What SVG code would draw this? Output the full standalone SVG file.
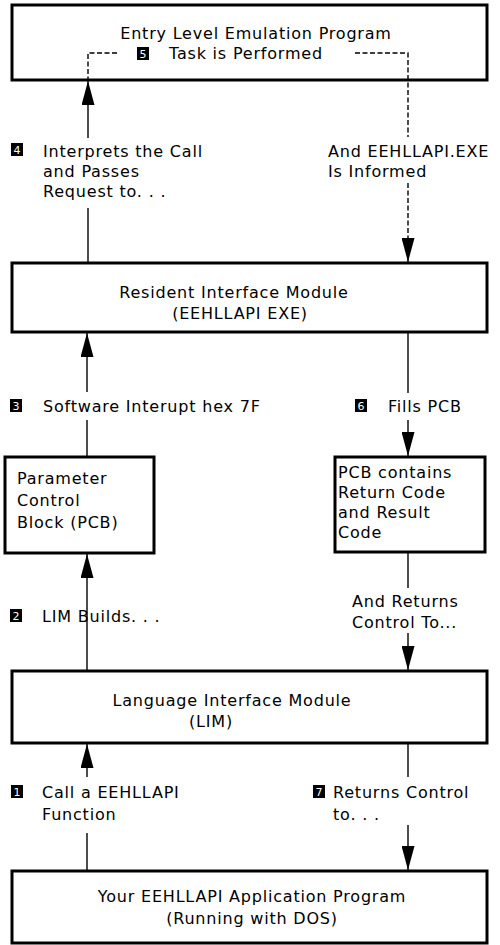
<svg xmlns="http://www.w3.org/2000/svg" width="500" height="945" viewBox="0 0 500 945">
<style>
  .box { fill: #fff; stroke: #000; stroke-width: 3; }
  .t { font-family: "DejaVu Sans", "Liberation Sans", sans-serif; font-size: 16px; letter-spacing: 0.8px; fill: #000; }
  .c { text-anchor: middle; }
  .ln { fill: none; stroke: #000; stroke-width: 1.4; }
  .dash { stroke-dasharray: 5 2.5; }
  .badge { fill: #000; }
  .bn { font-family: "DejaVu Sans", "Liberation Sans", sans-serif; font-size: 11px; fill: #fff; text-anchor: middle; }
</style>
<defs>
  <marker id="arrow" viewBox="0 0 24 13" refX="24" refY="6.5" markerWidth="24" markerHeight="13" markerUnits="userSpaceOnUse" orient="auto">
    <path d="M0,0 L24,6.5 L0,13 Z" fill="#000"/>
  </marker>
</defs>
<rect width="500" height="945" fill="#fff"/>

<g id="connectors">
  <!-- 1: app -> LIM -->
  <line class="ln" x1="87" y1="871" x2="87" y2="833"/>
  <line class="ln" x1="87" y1="777" x2="87" y2="744" marker-end="url(#arrow)"/>
  <!-- 2: LIM -> PCB param -->
  <line class="ln" x1="87" y1="671" x2="87" y2="554" marker-end="url(#arrow)"/>
  <!-- 3: param -> resident -->
  <line class="ln" x1="87" y1="457" x2="87" y2="420"/>
  <line class="ln" x1="87" y1="392" x2="87" y2="333" marker-end="url(#arrow)"/>
  <!-- 4: resident -> entry level -->
  <line class="ln" x1="88" y1="263" x2="88" y2="208"/>
  <line class="ln" x1="88" y1="138" x2="88" y2="81" marker-end="url(#arrow)"/>
  <!-- 5: dashed inside top box -->
  <polyline class="ln dash" points="117,53 88,53 88,80"/>
  <polyline class="ln dash" points="355,53 408,53 408,137"/>
  <line class="ln dash" x1="408" y1="183" x2="408" y2="262" marker-end="url(#arrow)"/>
  <!-- 6: resident -> PCB contains -->
  <line class="ln" x1="408" y1="333" x2="408" y2="393"/>
  <line class="ln" x1="408" y1="420" x2="408" y2="456" marker-end="url(#arrow)"/>
  <!-- PCB -> LIM -->
  <line class="ln" x1="408" y1="553" x2="408" y2="588"/>
  <line class="ln" x1="408" y1="633" x2="408" y2="670" marker-end="url(#arrow)"/>
  <!-- 7: LIM -> app -->
  <line class="ln" x1="408" y1="744" x2="408" y2="777"/>
  <line class="ln" x1="408" y1="825" x2="408" y2="870" marker-end="url(#arrow)"/>
</g>

<g id="node-entry">
  <rect class="box" x="12" y="5" width="475" height="75" style="fill:none"/>
  <text class="t c" x="256" y="39">Entry Level Emulation Program</text>
  <rect class="badge" x="137" y="47" width="12" height="13"/>
  <text class="bn" x="143" y="58">5</text>
  <text class="t" x="169" y="59">Task is Performed</text>
</g>

<g id="label-4">
  <rect class="badge" x="11" y="143" width="12" height="13"/>
  <text class="bn" x="17" y="154">4</text>
  <text class="t" x="43" y="157">Interprets the Call</text>
  <text class="t" x="43" y="177">and Passes</text>
  <text class="t" x="43" y="197">Request to. . .</text>
</g>

<g id="label-informed">
  <text class="t" x="328" y="157">And EEHLLAPI.EXE</text>
  <text class="t" x="328" y="177">Is Informed</text>
</g>

<g id="node-resident">
  <rect class="box" x="12" y="263" width="475" height="69"/>
  <text class="t c" x="234" y="298">Resident Interface Module</text>
  <text class="t c" x="240" y="319">(EEHLLAPI EXE)</text>
</g>

<g id="label-3">
  <rect class="badge" x="10" y="399" width="12" height="13"/>
  <text class="bn" x="16" y="410">3</text>
  <text class="t" x="43" y="412">Software Interupt hex 7F</text>
</g>

<g id="label-6">
  <rect class="badge" x="355" y="399" width="12" height="13"/>
  <text class="bn" x="361" y="410">6</text>
  <text class="t" x="388" y="412">Fills PCB</text>
</g>

<g id="node-param">
  <rect class="box" x="5" y="457" width="149" height="96"/>
  <text class="t" x="17" y="484">Parameter</text>
  <text class="t" x="17" y="506">Control</text>
  <text class="t" x="17" y="528">Block (PCB)</text>
</g>

<g id="node-pcb">
  <rect class="box" x="335" y="457" width="150" height="95"/>
  <text class="t" x="338" y="478">PCB contains</text>
  <text class="t" x="338" y="498">Return Code</text>
  <text class="t" x="338" y="518">and Result</text>
  <text class="t" x="338" y="538">Code</text>
</g>

<g id="label-2">
  <rect class="badge" x="10" y="609" width="12" height="13"/>
  <text class="bn" x="16" y="620">2</text>
  <text class="t" x="42" y="622">LIM Builds. . .</text>
</g>

<g id="label-returns">
  <text class="t" x="352" y="607">And Returns</text>
  <text class="t" x="352" y="628">Control To...</text>
</g>

<g id="node-lim">
  <rect class="box" x="12" y="671" width="475" height="72"/>
  <text class="t c" x="232" y="706">Language Interface Module</text>
  <text class="t c" x="211" y="727">(LIM)</text>
</g>

<g id="label-1">
  <rect class="badge" x="11" y="785" width="12" height="13"/>
  <text class="bn" x="17" y="796">1</text>
  <text class="t" x="42" y="798">Call a EEHLLAPI</text>
  <text class="t" x="42" y="820">Function</text>
</g>

<g id="label-7">
  <rect class="badge" x="313" y="785" width="12" height="13"/>
  <text class="bn" x="319" y="796">7</text>
  <text class="t" x="333" y="798">Returns Control</text>
  <text class="t" x="333" y="820">to. . .</text>
</g>

<g id="node-app">
  <rect class="box" x="12" y="871" width="475" height="72"/>
  <text class="t c" x="252" y="902">Your EEHLLAPI Application Program</text>
  <text class="t c" x="252" y="924">(Running with DOS)</text>
</g>
</svg>
